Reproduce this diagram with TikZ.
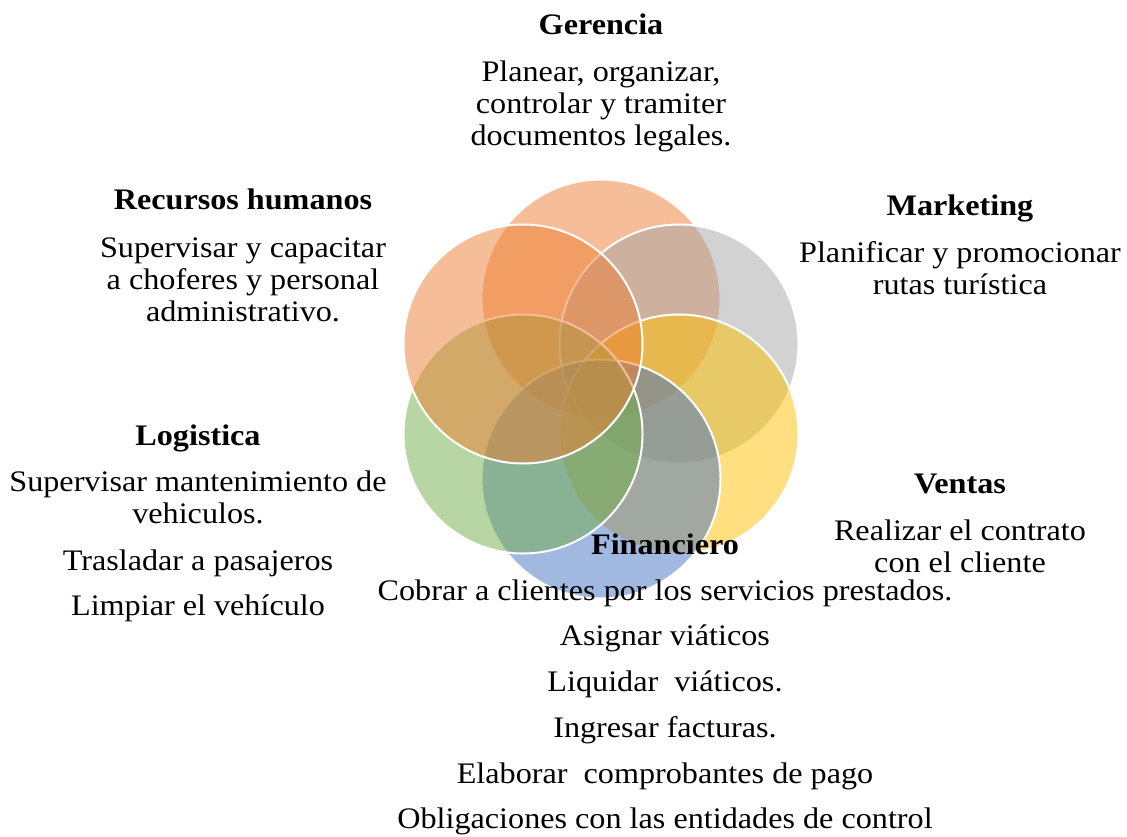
\documentclass[tikz,border=0pt]{standalone}
\usepackage{fontspec}
\setmainfont{Liberation Serif}[FakeStretch=1.08]
\definecolor{cOrange}{HTML}{ED7D31}
\definecolor{cGray}{HTML}{A5A5A5}
\definecolor{cGold}{HTML}{FFC000}
\definecolor{cBlue}{HTML}{4472C4}
\definecolor{cGreen}{HTML}{70AD47}
\begin{document}
\begin{tikzpicture}[x=1pt,y=-1pt,
  circ/.style={draw=white, line width=2pt, fill opacity=0.5},
  txt/.style={anchor=base, inner sep=0pt, font=\fontsize{29.8}{32}\selectfont},
  ttl/.style={txt, font=\fontsize{29.8}{32}\selectfont\bfseries}]
\useasboundingbox (0,0) rectangle (1127,837);
% circles
\path[circ, fill=cOrange] (601,299) circle[radius=119.5pt];
\path[circ, fill=cGray]   (679,344) circle[radius=119.5pt];
\path[circ, fill=cGold]   (679,434) circle[radius=119.5pt];
\path[circ, fill=cBlue]   (601,479) circle[radius=119.5pt];
\path[circ, fill=cGreen]  (523,434) circle[radius=119.5pt];
\path[circ, fill=cOrange] (523,344) circle[radius=119.5pt];
% Gerencia
\node[ttl] (g0) at (601,35) {Gerencia};
\node[txt] (g1) at (601,82) {Planear, organizar,};
\node[txt] (g2) at (601,114) {controlar y tramiter};
\node[txt] (g3) at (601,146) {documentos legales.};
% Recursos humanos
\node[ttl] (r0) at (243,210) {Recursos humanos};
\node[txt] (r1) at (243,257) {Supervisar y capacitar};
\node[txt] (r2) at (243,289) {a choferes y personal};
\node[txt] (r3) at (243,321) {administrativo.};
% Marketing
\node[ttl] (m0) at (960,215) {Marketing};
\node[txt] (m1) at (960,262) {Planificar y promocionar};
\node[txt] (m2) at (960,294) {rutas turística};
% Logistica
\node[ttl] (l0) at (198,445) {Logistica};
\node[txt] (l1) at (198,491) {Supervisar mantenimiento de};
\node[txt] (l2) at (198,523) {vehiculos.};
\node[txt] (l3) at (198,570) {Trasladar a pasajeros};
\node[txt] (l4) at (198,615) {Limpiar el vehículo};
% Ventas
\node[ttl] (v0) at (960,493) {Ventas};
\node[txt] (v1) at (960,540) {Realizar el contrato};
\node[txt] (v2) at (960,572) {con el cliente};
% Financiero
\node[ttl] (f0) at (665,554) {Financiero};
\node[txt] (f1) at (665,600) {Cobrar a clientes por los servicios prestados.};
\node[txt] (f2) at (665,645) {Asignar viáticos};
\node[txt] (f3) at (665,691) {Liquidar\ \ viáticos.};
\node[txt] (f4) at (665,737) {Ingresar facturas.};
\node[txt] (f5) at (665,783) {Elaborar\ \ comprobantes de pago};
\node[txt] (f6) at (665,828) {Obligaciones con las entidades de control};
\end{tikzpicture}
\end{document}
